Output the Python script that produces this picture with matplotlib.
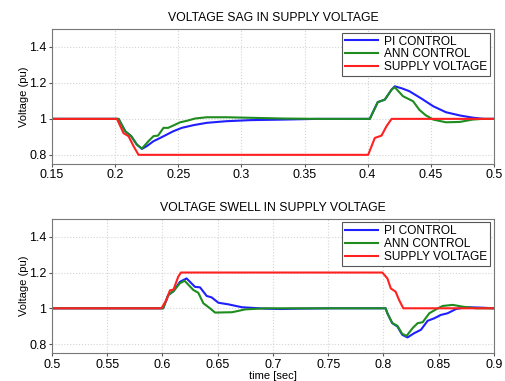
import numpy as np
import matplotlib.pyplot as plt

plt.rcParams['font.family'] = ['Liberation Sans', 'DejaVu Sans']

# ---- voltage sag ----
sag_supply_t = [0.15, 0.2014, 0.2067, 0.2106, 0.2146, 0.2185, 0.4004, 0.4057, 0.411, 0.415, 0.419, 0.5]
sag_supply_v = [1.0, 1.0, 0.92, 0.904, 0.848, 0.80, 0.80, 0.894, 0.907, 0.96, 1.0, 1.0]

sag_pi_t = [0.15, 0.2027, 0.208, 0.2127, 0.2172, 0.2212, 0.225, 0.2304, 0.2357, 0.241, 0.246,
            0.2528, 0.262, 0.2726, 0.288, 0.307, 0.333, 0.36, 0.4017, 0.408, 0.4136, 0.419,
            0.4215, 0.427, 0.433, 0.4426, 0.452, 0.462, 0.473, 0.483, 0.492, 0.5]
sag_pi_v = [1.0, 1.0, 0.931, 0.904, 0.857, 0.833, 0.848, 0.876, 0.894, 0.913, 0.931,
            0.95, 0.965, 0.978, 0.987, 0.993, 0.996, 1.0, 1.0, 1.093, 1.107, 1.163,
            1.181, 1.17, 1.154, 1.113, 1.07, 1.037, 1.019, 1.007, 1.0, 1.0]

sag_ann_t = [0.15, 0.2027, 0.208, 0.2127, 0.2172, 0.2212, 0.2264, 0.2304, 0.234, 0.2383, 0.242,
             0.246, 0.2515, 0.2567, 0.2633, 0.2726, 0.288, 0.307, 0.333, 0.36, 0.4017, 0.408,
             0.4136, 0.419, 0.4215, 0.428, 0.436, 0.441, 0.446, 0.452, 0.462, 0.473, 0.483,
             0.491, 0.5]
sag_ann_v = [1.0, 1.0, 0.931, 0.904, 0.857, 0.835, 0.876, 0.904, 0.907, 0.95, 0.95,
             0.963, 0.981, 0.989, 1.002, 1.009, 1.009, 1.006, 1.002, 1.0, 1.0, 1.093,
             1.107, 1.163, 1.176, 1.126, 1.098, 1.05, 1.02, 0.996, 0.981, 0.983, 0.996,
             1.0, 1.0]

# ---- voltage swell ----
sw_supply_t = [0.5, 0.599, 0.6036, 0.6067, 0.61, 0.6142, 0.6167, 0.799, 0.8036, 0.8067, 0.811,
               0.8142, 0.818, 0.9]
sw_supply_v = [1.0, 1.0, 1.046, 1.10, 1.105, 1.176, 1.2, 1.2, 1.167, 1.111, 1.093,
               1.046, 1.0, 1.0]

sw_pi_t = [0.5, 0.6006, 0.6052, 0.61, 0.6158, 0.6218, 0.6294, 0.634, 0.64, 0.6445, 0.6506,
           0.6597, 0.6718, 0.693, 0.708, 0.723, 0.754, 0.802, 0.8036, 0.808, 0.8127, 0.817,
           0.8218, 0.8279, 0.834, 0.84, 0.846, 0.852, 0.858, 0.8658, 0.875, 0.887, 0.9]
sw_pi_v = [1.0, 1.0, 1.074, 1.096, 1.148, 1.167, 1.12, 1.117, 1.069, 1.061, 1.031,
           1.022, 1.006, 0.998, 0.996, 0.998, 1.0, 1.0, 0.972, 0.917, 0.898, 0.852,
           0.837, 0.861, 0.88, 0.93, 0.944, 0.963, 0.972, 0.996, 1.006, 1.004, 1.0]

sw_ann_t = [0.5, 0.6006, 0.6052, 0.61, 0.6158, 0.62, 0.628, 0.6324, 0.637, 0.643, 0.6476,
            0.663, 0.675, 0.693, 0.802, 0.8036, 0.808, 0.8127, 0.817, 0.821, 0.8264, 0.831,
            0.8355, 0.8415, 0.8476, 0.8536, 0.8627, 0.8718, 0.8839, 0.9]
sw_ann_v = [1.0, 1.0, 1.074, 1.096, 1.14, 1.154, 1.102, 1.087, 1.028, 1.0, 0.976,
            0.978, 0.994, 1.0, 1.0, 0.972, 0.917, 0.902, 0.857, 0.846, 0.889, 0.917,
            0.922, 0.972, 0.994, 1.013, 1.019, 1.009, 1.0, 1.0]

labels = ['PI CONTROL', 'ANN CONTROL', 'SUPPLY VOLTAGE']
colors = ['#1f1fff', '#1e8c1e', '#ff2020']


def draw(ax, series, title, xticks, xlim):
    for (t, v), c, lab in zip(series, colors, labels):
        ax.plot(t, v, color=c, linewidth=1.5, label=lab)
    ax.set_xlim(xlim)
    ax.set_ylim(0.75, 1.5)
    ax.set_xticks(xticks)
    ax.set_xticklabels([('%g' % x) for x in xticks])
    ax.set_yticks([0.8, 1.0, 1.2, 1.4])
    ax.set_yticklabels(['0.8', '1', '1.2', '1.4'])
    ax.grid(True, color='#d4d4d4', linestyle=':', linewidth=0.8)
    ax.tick_params(labelsize=9, length=2, color='#555555', pad=2)
    for s in ax.spines.values():
        s.set_color('#777777')
        s.set_linewidth(0.8)
    ax.set_ylabel('Voltage (pu)', fontsize=8, labelpad=0)
    ax.set_title(title, fontsize=8.8, pad=6)
    leg = ax.legend(loc='upper right', fontsize=8.6, handlelength=2.8, borderpad=0.25,
                    labelspacing=0.08, handletextpad=0.5, fancybox=False,
                    framealpha=1, borderaxespad=0.3)
    leg.get_frame().set_edgecolor('#555555')
    leg.get_frame().set_linewidth(0.8)


fig = plt.figure(figsize=(5.05, 3.81), dpi=100)
ax1 = fig.add_axes([0.103, 0.570, 0.875, 0.354])
ax2 = fig.add_axes([0.103, 0.0735, 0.875, 0.352])

draw(ax1, [(sag_pi_t, sag_pi_v), (sag_ann_t, sag_ann_v), (sag_supply_t, sag_supply_v)],
     'VOLTAGE SAG IN SUPPLY VOLTAGE', [0.15, 0.2, 0.25, 0.3, 0.35, 0.4, 0.45, 0.5], (0.15, 0.5))
draw(ax2, [(sw_pi_t, sw_pi_v), (sw_ann_t, sw_ann_v), (sw_supply_t, sw_supply_v)],
     'VOLTAGE SWELL IN SUPPLY VOLTAGE',
     [0.5, 0.55, 0.6, 0.65, 0.7, 0.75, 0.8, 0.85, 0.9], (0.5, 0.9))
ax2.set_xlabel('time [sec]', fontsize=8, labelpad=0)

plt.savefig('out.png', dpi=100)
